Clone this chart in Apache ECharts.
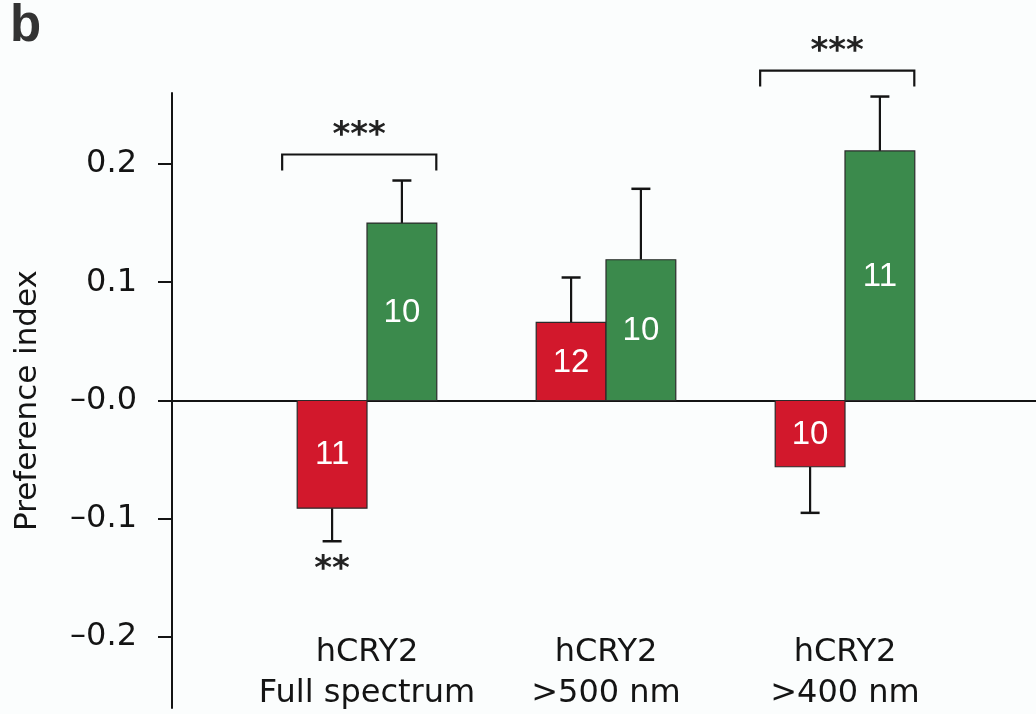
<!DOCTYPE html>
<html>
<head>
<meta charset="utf-8">
<script src="https://cdn.jsdelivr.net/npm/echarts@6/dist/echarts.min.js"></script>
<style>
html,body{margin:0;padding:0;background:#fbfdfd;}
#chart{width:1036px;height:714px;}
</style>
</head>
<body>
<div id="chart"></div>
<script>
// ---------- data ----------
const categories = ['hCRY2\nFull spectrum', 'hCRY2\n>500 nm', 'hCRY2\n>400 nm'];
const redValues   = [-0.091, 0.066, -0.056];
const redErrors   = [0.028, 0.038, 0.039];
const redN        = [11, 12, 10];
const greenValues = [0.150, 0.119, 0.211];
const greenErrors = [0.036, 0.060, 0.046];
const greenN      = [10, 10, 11];
const yTickValues = [-0.2, -0.1, 0, 0.1, 0.2];
const yTickLabels = ['\u20130.2', '\u20130.1', '\u20130.0', '0.1', '0.2'];
const bracketGroups = [0, 2];
const bracketLevels = [0.208, 0.279];
const bracketLabels = ['***', '***'];
const belowMarkGroup = 0;
const belowMarkLabel = '**';

// ---------- layout / style constants ----------
const RED = '#d2182c';
const GREEN = '#3b8a4c';
const INK = '#141414';
const BAR_FRAC = 0.292;     // bar width as share of group spacing
const CAP_PX = 19;
const BR_LEFT = 0.355, BR_RIGHT = 0.29, BR_LEG = 0.0135;

function groupX(i) { return i + 1; }

function barData(values, errors, ns) {
  return values.map((v, i) => [groupX(i), v, errors[i], ns[i]]);
}

function makeBarRender(side, color) {
  return function (params, api) {
    const x = api.value(0), v = api.value(1), e = api.value(2), n = api.value(3);
    const band = api.size([1, 0])[0];
    const w = band * BAR_FRAC;
    const base = api.coord([x, 0]);
    const cx = base[0] + (side === 0 ? -w / 2 : w / 2);
    const y0 = base[1];
    const y1 = api.coord([x, v])[1];
    const ye = api.coord([x, v + Math.sign(v) * e])[1];
    const children = [
      { type: 'line', shape: { x1: cx, y1: y1, x2: cx, y2: ye }, style: { stroke: INK, lineWidth: 2.2 } },
      { type: 'line', shape: { x1: cx - CAP_PX / 2, y1: ye, x2: cx + CAP_PX / 2, y2: ye }, style: { stroke: INK, lineWidth: 2.5 } },
      { type: 'rect', shape: { x: cx - w / 2, y: Math.min(y0, y1), width: w, height: Math.abs(y1 - y0) },
        style: { fill: color, stroke: '#2a2a2a', lineWidth: 1.2 } },
      { type: 'text', x: cx, y: (y0 + y1) / 2 + 1,
        style: { text: String(n), fill: '#ffffff', fontSize: 33, fontFamily: 'Liberation Sans',
                 align: 'center', verticalAlign: 'middle' } }
    ];
    if (side === 0 && params.dataIndex === belowMarkGroup) {
      children.push({ type: 'text', x: cx, y: ye + 29,
        style: { text: belowMarkLabel, fill: '#222', fontSize: 34, fontWeight: 'bold',
                 fontFamily: 'DejaVu Sans', align: 'center', verticalAlign: 'middle' } });
    }
    return { type: 'group', children: children };
  };
}

function renderBracket(params, api) {
  const x = api.value(0), lvl = api.value(1);
  const band = api.size([1, 0])[0];
  const c = api.coord([x, lvl]);
  const legY = api.coord([x, lvl - BR_LEG])[1];
  const xl = c[0] - BR_LEFT * band, xr = c[0] + BR_RIGHT * band;
  return { type: 'group', children: [
    { type: 'polyline', shape: { points: [[xl, legY], [xl, c[1]], [xr, c[1]], [xr, legY]] },
      style: { stroke: INK, lineWidth: 2.2, fill: null } },
    { type: 'text', x: (xl + xr) / 2, y: c[1] - 18,
      style: { text: bracketLabels[params.dataIndex], fill: '#222', fontSize: 34, fontWeight: 'bold',
               fontFamily: 'DejaVu Sans', align: 'center', verticalAlign: 'middle' } }
  ]};
}

const chart = echarts.init(document.getElementById('chart'), null, { renderer: 'canvas' });
chart.setOption({
  backgroundColor: '#fbfdfd',
  animation: false,
  title: { text: 'b', left: 5, top: -4,
    textStyle: { fontSize: 51, fontWeight: 'bold', fontFamily: 'Liberation Sans', color: '#333' } },
  grid: { left: 172, right: 0, top: 93, bottom: 6, containLabel: false, outerBoundsMode: 'none' },
  xAxis: {
    type: 'value', min: 1 - 195 / 239, max: 3 + 191 / 239,
    axisLine: { show: true, onZero: true, lineStyle: { color: INK, width: 2 } },
    axisTick: { show: false },
    splitLine: { show: false },
    axisLabel: {
      customValues: categories.map((c, i) => groupX(i)),
      formatter: v => categories[Math.round(v) - 1] || '',
      margin: -76, fontSize: 32, lineHeight: 41, fontFamily: 'DejaVu Sans', color: INK
    }
  },
  yAxis: {
    type: 'value', min: -0.26, max: 0.26,
    name: 'Preference index', nameLocation: 'middle', nameGap: 129,
    nameTextStyle: { fontSize: 31, fontFamily: 'DejaVu Sans', color: INK },
    axisLine: { show: true, lineStyle: { color: INK, width: 2 } },
    axisTick: { show: true, length: 14, customValues: yTickValues, lineStyle: { color: INK, width: 2 } },
    splitLine: { show: false },
    axisLabel: {
      customValues: yTickValues,
      formatter: v => { const i = yTickValues.findIndex(t => Math.abs(t - v) < 1e-9); return i >= 0 ? yTickLabels[i] : ''; },
      margin: 35, fontSize: 32, fontFamily: 'DejaVu Sans', color: INK
    }
  },
  series: [
    { type: 'custom', name: 'red', clip: false, data: barData(redValues, redErrors, redN),
      renderItem: makeBarRender(0, RED), z: 3 },
    { type: 'custom', name: 'green', clip: false, data: barData(greenValues, greenErrors, greenN),
      renderItem: makeBarRender(1, GREEN), z: 3 },
    { type: 'custom', name: 'brackets', clip: false,
      data: bracketGroups.map((g, i) => [groupX(g), bracketLevels[i]]),
      renderItem: renderBracket, z: 4 }
  ]
});
</script>
</body>
</html>
